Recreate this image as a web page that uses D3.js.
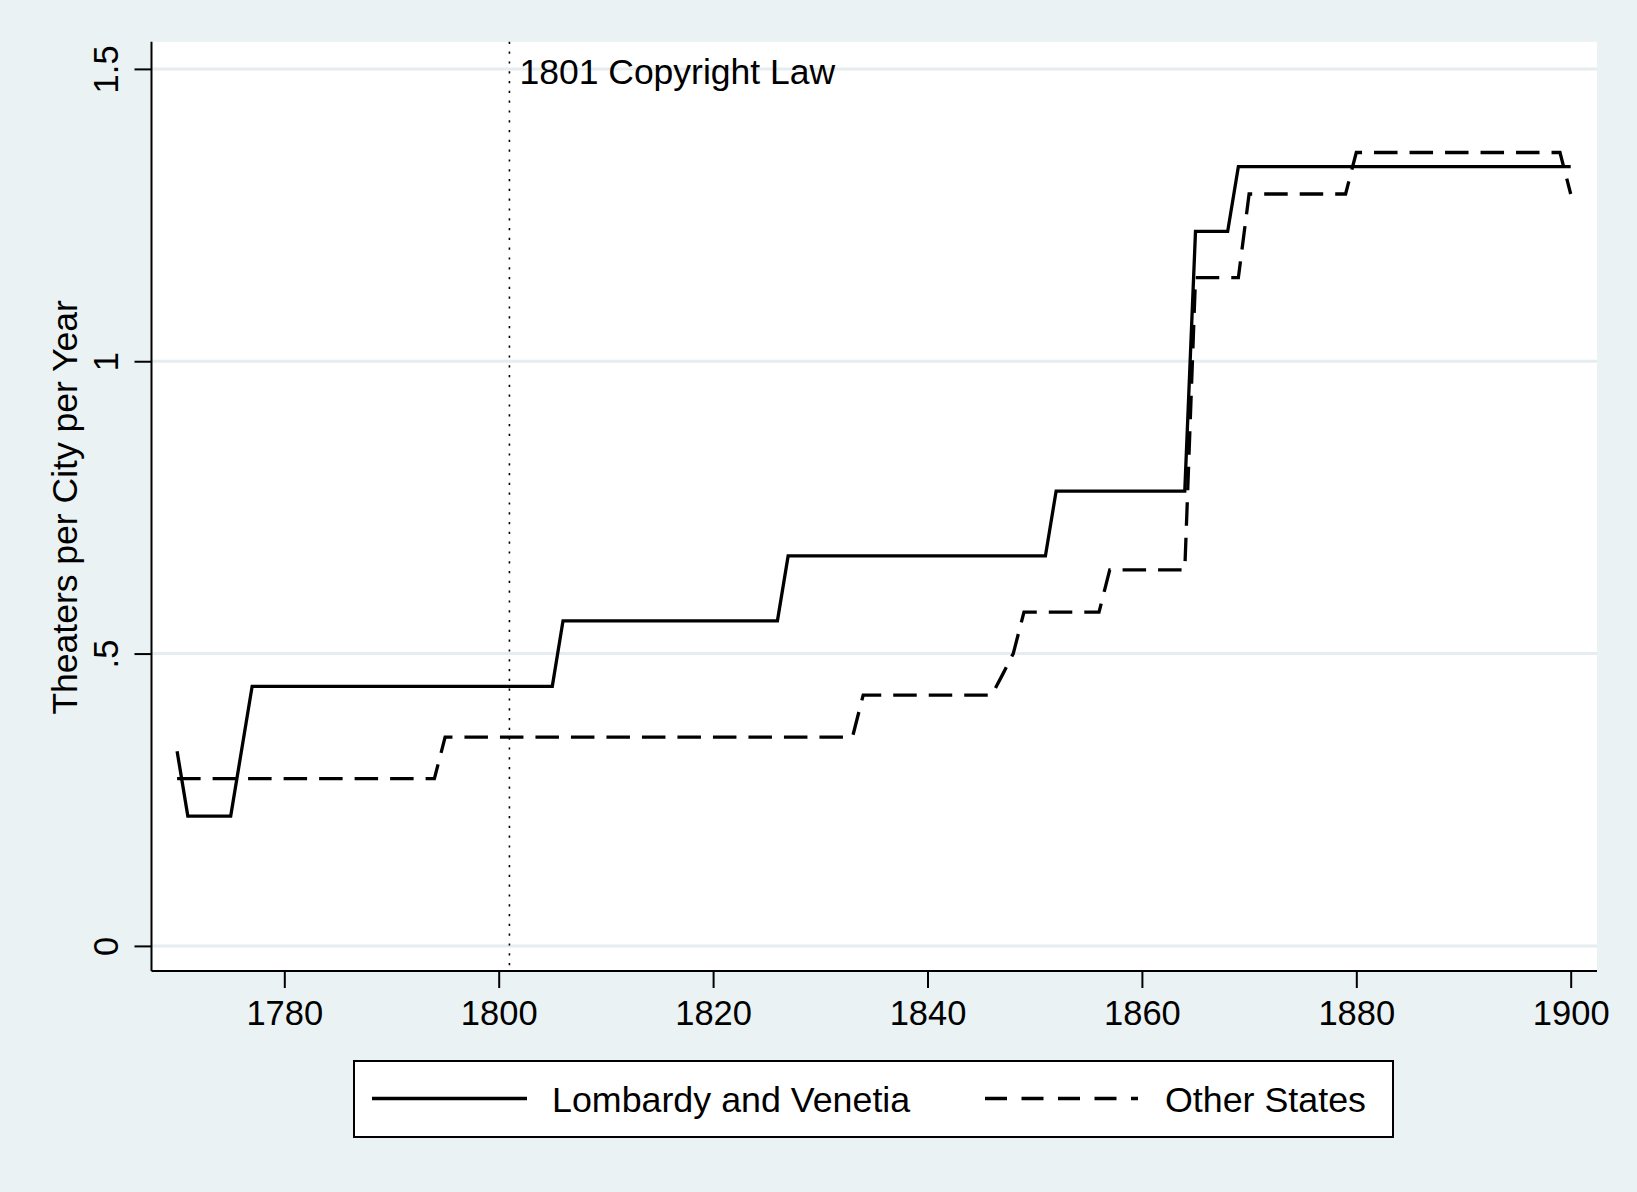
<!DOCTYPE html>
<html>
<head>
<meta charset="utf-8">
<script src="https://cdn.jsdelivr.net/npm/d3@7"></script>
<style>
  html, body { margin: 0; padding: 0; background: #eaf2f3; }
  svg { display: block; }
  text { font-family: "Liberation Sans", Arial, Helvetica, sans-serif; fill: #000; }
</style>
</head>
<body>
<svg id="chart" width="1637" height="1192"></svg>
<script>
// ---- Data ----
const lombardyYears  = [1770, 1771, 1775, 1777, 1805, 1806, 1826, 1827, 1851, 1852, 1864, 1865, 1868, 1869, 1900];
const lombardyValues = [0.333, 0.222, 0.222, 0.444, 0.444, 0.556, 0.556, 0.667, 0.667, 0.778, 0.778, 1.222, 1.222, 1.333, 1.333];

const otherYears  = [1770, 1794, 1795, 1833, 1834, 1846, 1847, 1848, 1849, 1856, 1857, 1864, 1865, 1869, 1870, 1879, 1880, 1899, 1900];
const otherValues = [0.286, 0.286, 0.357, 0.357, 0.429, 0.429, 0.464, 0.500, 0.571, 0.571, 0.643, 0.643, 1.143, 1.143, 1.286, 1.286, 1.357, 1.357, 1.286];

const xTicks = [1780, 1800, 1820, 1840, 1860, 1880, 1900];
const yTicks = [0, 0.5, 1, 1.5];
const yTickLabels = ["0", ".5", "1", "1.5"];

const seriesNames = ["Lombardy and Venetia", "Other States"];
const eventYear = 1801;
const eventLabel = "1801 Copyright Law";
const yTitle = "Theaters per City per Year";

// ---- Layout ----
const svg = d3.select("#chart");
const plot = { left: 151.5, right: 1597, top: 41.8, bottom: 971 };

const x = d3.scaleLinear().domain([1780, 1900]).range([284.3, 1570.7]);
const y = d3.scaleLinear().domain([0, 1.5]).range([945.9, 68.9]);

// background
svg.append("rect").attr("x", 0).attr("y", 0).attr("width", 1637).attr("height", 1192).attr("fill", "#eaf2f3");
// plot region
svg.append("rect")
  .attr("x", plot.left).attr("y", plot.top)
  .attr("width", plot.right - plot.left).attr("height", plot.bottom - plot.top)
  .attr("fill", "#ffffff");

// grid lines
svg.append("g").selectAll("line").data(yTicks).join("line")
  .attr("x1", plot.left).attr("x2", plot.right)
  .attr("y1", d => y(d)).attr("y2", d => y(d))
  .attr("stroke", "#e5edf0").attr("stroke-width", 3);

// event line
svg.append("line")
  .attr("x1", x(eventYear)).attr("x2", x(eventYear))
  .attr("y1", plot.top).attr("y2", plot.bottom)
  .attr("stroke", "#000").attr("stroke-width", 1.6)
  .attr("stroke-dasharray", "2.2,7.6");
svg.append("text")
  .attr("x", x(eventYear) + 10).attr("y", 84)
  .attr("font-size", 35.5)
  .text(eventLabel);

// series lines
const line = d3.line().x(d => x(d[0])).y(d => y(d[1]));
const lombardy = lombardyYears.map((yr, i) => [yr, lombardyValues[i]]);
const other = otherYears.map((yr, i) => [yr, otherValues[i]]);

svg.append("path").datum(other)
  .attr("d", line).attr("fill", "none")
  .attr("stroke", "#000").attr("stroke-width", 3.3)
  .attr("stroke-dasharray", "23.5,12");
svg.append("path").datum(lombardy)
  .attr("d", line).attr("fill", "none")
  .attr("stroke", "#000").attr("stroke-width", 3.3)
  .attr("stroke-linejoin", "miter");

// y axis
const yAxis = d3.axisLeft(y).tickValues(yTicks).tickSize(17)
  .tickFormat((d, i) => yTickLabels[i]);
const gy = svg.append("g").attr("transform", `translate(${plot.left},0)`).call(yAxis);
gy.select(".domain").attr("d", `M0,${plot.top}V${plot.bottom}`).attr("stroke", "#000").attr("stroke-width", 2);
gy.selectAll(".tick line").attr("stroke", "#000").attr("stroke-width", 2);
gy.selectAll(".tick text")
  .attr("x", null).attr("dy", null)
  .attr("transform", "translate(-34,0) rotate(-90)")
  .attr("text-anchor", "middle")
  .attr("font-size", 34.5)
  .attr("font-family", "Liberation Sans, Arial, sans-serif")
  .attr("fill", "#000");

// x axis
const xAxis = d3.axisBottom(x).tickValues(xTicks).tickSize(17).tickFormat(d3.format("d"));
const gx = svg.append("g").attr("transform", `translate(0,${plot.bottom})`).call(xAxis);
gx.select(".domain").attr("d", `M${plot.left},0H${plot.right}`).attr("stroke", "#000").attr("stroke-width", 2);
gx.selectAll(".tick line").attr("stroke", "#000").attr("stroke-width", 2);
gx.selectAll(".tick text")
  .attr("y", 54).attr("dy", null)
  .attr("font-size", 34.5)
  .attr("font-family", "Liberation Sans, Arial, sans-serif")
  .attr("fill", "#000");

// y title
svg.append("text")
  .attr("transform", `translate(77,${(plot.top + plot.bottom) / 2 + 1}) rotate(-90)`)
  .attr("text-anchor", "middle")
  .attr("font-size", 35.5)
  .text(yTitle);

// legend
const lg = svg.append("g");
lg.append("rect")
  .attr("x", 354).attr("y", 1061).attr("width", 1039).attr("height", 76)
  .attr("fill", "#fff").attr("stroke", "#000").attr("stroke-width", 2);
lg.append("line").attr("x1", 372).attr("x2", 527).attr("y1", 1098.5).attr("y2", 1098.5)
  .attr("stroke", "#000").attr("stroke-width", 3.3);
lg.append("text").attr("x", 552).attr("y", 1112).attr("font-size", 35.8).text(seriesNames[0]);
lg.append("line").attr("x1", 985).attr("x2", 1138).attr("y1", 1098.5).attr("y2", 1098.5)
  .attr("stroke", "#000").attr("stroke-width", 3.3).attr("stroke-dasharray", "22,14.5");
lg.append("text").attr("x", 1165).attr("y", 1112).attr("font-size", 35.8).text(seriesNames[1]);
</script>
</body>
</html>
